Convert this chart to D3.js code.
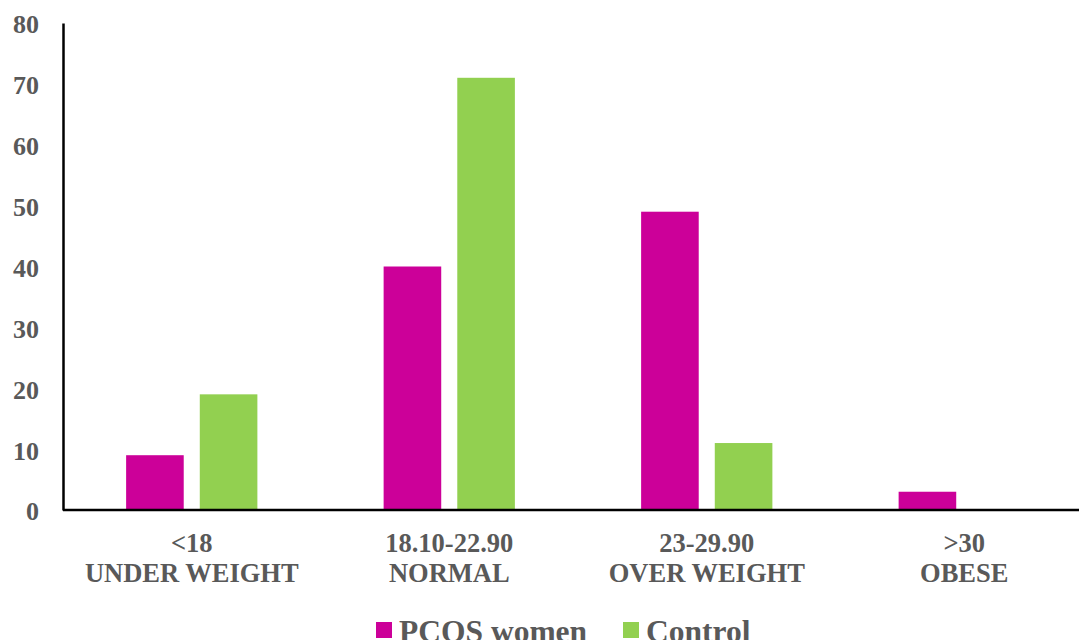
<!DOCTYPE html>
<html>
<head>
<meta charset="utf-8">
<script src="https://cdn.jsdelivr.net/npm/d3@7"></script>
<style>
  body { margin: 0; background: #fff; }
  svg { display: block; }
  text { font-family: "Liberation Serif", "Times New Roman", serif; font-weight: bold; fill: #595959; }
</style>
</head>
<body>
<script>
(function(){
// chart data
var categories = ["<18|UNDER WEIGHT", "18.10-22.90|NORMAL", "23-29.90|OVER WEIGHT", ">30|OBESE"];
var seriesNames = ["PCOS women", "Control"];
var pcosValues = [9, 40, 49, 3];
var controlValues = [19, 71, 11, 0];
var yTicks = [0, 10, 20, 30, 40, 50, 60, 70, 80];
var colors = ["#CC0099", "#92D050"];

var width = 1079, height = 640;
var plotLeft = 63, plotTop = 23, plotBottom = 510, plotRight = 1093;

var svg = d3.select("body").append("svg")
    .attr("width", width)
    .attr("height", height);

// scales
var x = d3.scaleBand()
    .domain(categories)
    .range([plotLeft, plotRight])
    .padding(0);

var xInner = d3.scaleBand()
    .domain(seriesNames)
    .range([0, x.bandwidth()])
    .paddingInner(0.218)
    .paddingOuter(0.857);

var y = d3.scaleLinear()
    .domain([0, 80])
    .range([plotBottom, plotTop]);

// bars
var rows = categories.map(function(c, i){
    return {cat: c, vals: [pcosValues[i], controlValues[i]]};
});

var groups = svg.selectAll(".grp")
    .data(rows)
    .enter().append("g")
    .attr("class", "grp")
    .attr("transform", function(d){ return "translate(" + x(d.cat) + ",0)"; });

groups.selectAll("rect")
    .data(function(d){
        return d.vals.map(function(v, j){ return {name: seriesNames[j], v: v, j: j}; });
    })
    .enter().append("rect")
    .filter(function(d){ return d.v > 0; })
    .attr("x", function(d){ return xInner(d.name); })
    .attr("width", xInner.bandwidth())
    .attr("y", function(d){ return y(d.v); })
    .attr("height", function(d){ return y(0) - y(d.v); })
    .attr("fill", function(d){ return colors[d.j]; });

// y axis
var yAxis = svg.append("g")
    .attr("transform", "translate(" + plotLeft + ",0)")
    .call(d3.axisLeft(y).tickValues(yTicks).tickSize(0).tickPadding(24));
yAxis.select(".domain").attr("stroke", "#000").attr("stroke-width", 2.5);
yAxis.selectAll("text")
    .attr("font-size", 26)
    .attr("font-family", "Liberation Serif")
    .attr("font-weight", "bold")
    .attr("fill", "#595959")
    .attr("dy", "0.38em");

// x axis baseline
svg.append("line")
    .attr("x1", plotLeft).attr("x2", width)
    .attr("y1", y(0)).attr("y2", y(0))
    .attr("stroke", "#000").attr("stroke-width", 2.5);

// x labels (two lines each)
var xl = svg.selectAll(".xlab")
    .data(categories)
    .enter().append("text")
    .attr("class", "xlab")
    .attr("text-anchor", "middle")
    .attr("font-size", 26.5)
    .attr("transform", function(d){ return "translate(" + (x(d) + x.bandwidth() / 2) + ",0)"; });
xl.append("tspan").attr("x", 0).attr("y", 552).text(function(d){ return d.split("|")[0]; });
xl.append("tspan").attr("x", 0).attr("y", 582).text(function(d){ return d.split("|")[1]; });

// legend
var legendX = [376, 623];
var legend = svg.selectAll(".leg")
    .data(seriesNames)
    .enter().append("g")
    .attr("class", "leg")
    .attr("transform", function(d, i){ return "translate(" + legendX[i] + ",622)"; });
legend.append("rect")
    .attr("width", 16).attr("height", 16)
    .attr("fill", function(d, i){ return colors[i]; });
legend.append("text")
    .attr("x", 23).attr("y", 20)
    .attr("font-size", 31.5)
    .text(function(d){ return d; });
})();
</script>
</body>
</html>
